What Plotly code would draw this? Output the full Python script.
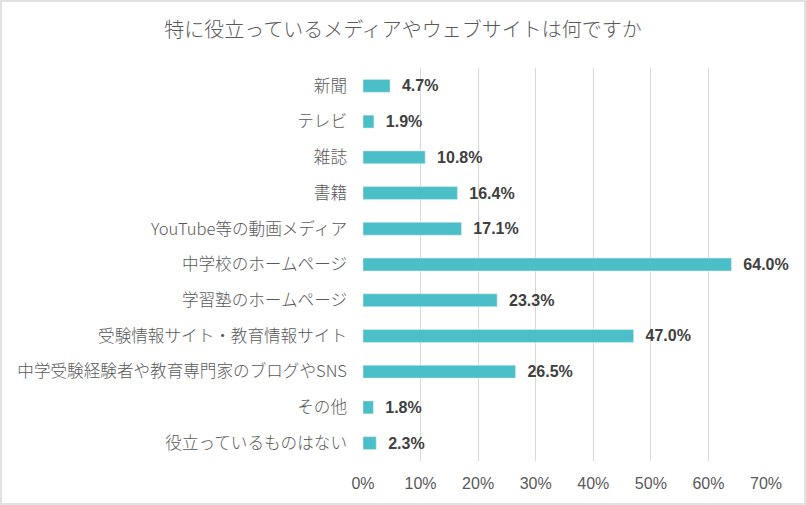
import plotly.graph_objects as go

# Données
categories = [
    "新聞",
    "テレビ",
    "雑誌",
    "書籍",
    "YouTube等の動画メディア",
    "中学校のホームページ",
    "学習塾のホームページ",
    "受験情報サイト・教育情報サイト",
    "中学受験経験者や教育専門家のブログやSNS",
    "その他",
    "役立っているものはない",
]
values = [4.7, 1.9, 10.8, 16.4, 17.1, 64.0, 23.3, 47.0, 26.5, 1.8, 2.3]
tick_vals = [0, 10, 20, 30, 40, 50, 60, 70]
tick_text = [f"{v}%" for v in tick_vals]

W, H = 806, 505
L, R, T, B = 363, 40, 68, 44
pw, ph = W - L - R, H - T - B

fig = go.Figure(
    go.Bar(
        x=values,
        y=categories,
        orientation="h",
        marker=dict(color="#4BBFC8"),
        text=[f"  {v:.1f}%" for v in values],
        textposition="outside",
        constraintext="none",
        cliponaxis=False,
        textfont=dict(family="Liberation Sans, Arial", size=16, color="#404040", weight="bold"),
        hoverinfo="skip",
    )
)

fig.update_layout(
    width=W,
    height=H,
    margin=dict(l=L, r=R, t=T, b=B),
    paper_bgcolor="white",
    plot_bgcolor="white",
    bargap=0.64,
    showlegend=False,
    title=dict(
        text="特に役立っているメディアやウェブサイトは何ですか",
        x=0.5,
        xanchor="center",
        y=1 - 30 / H,
        yanchor="middle",
        font=dict(family="Noto Sans CJK JP", size=20, color="#595959", weight=300),
    ),
    shapes=[
        dict(
            type="rect",
            xref="paper",
            yref="paper",
            x0=-(L - 1) / pw,
            x1=1 + (R - 1) / pw,
            y0=-(B - 1) / ph,
            y1=1 + (T - 1) / ph,
            line=dict(color="#D9D9D9", width=1.5),
        )
    ],
)

fig.update_xaxes(
    range=[0, 70],
    tickvals=tick_vals,
    ticktext=tick_text,
    showgrid=True,
    gridcolor="#D9D9D9",
    gridwidth=1,
    zeroline=False,
    showline=False,
    ticks="",
    ticklabelstandoff=11,
    tickfont=dict(family="Liberation Sans, Arial", size=16, color="#595959"),
    fixedrange=True,
)

fig.update_yaxes(
    autorange="reversed",
    showgrid=False,
    ticks="",
    ticklabelstandoff=15,
    tickfont=dict(family="Noto Sans CJK JP", size=16.6, color="#595959", weight=300),
    fixedrange=True,
)

# la marge par défaut du <body> décale la figure de 8 px : on la supprime
fig.write_html(
    "out.html",
    config={"displayModeBar": False},
    post_script="document.body.style.margin='0';",
)
